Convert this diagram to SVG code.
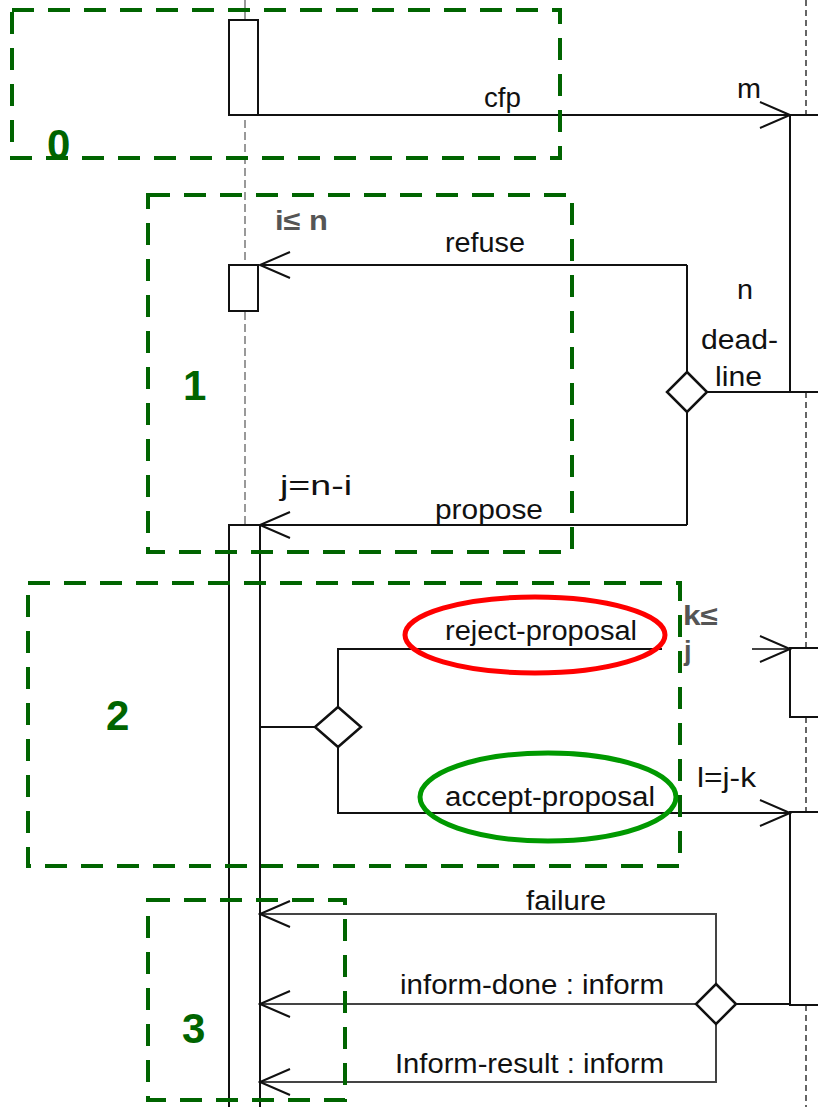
<svg xmlns="http://www.w3.org/2000/svg" width="818" height="1107" viewBox="0 0 818 1107">
<style>
.box{fill:none;stroke:#006400;stroke-width:4;stroke-dasharray:22 14}
.num{font-family:"Liberation Sans",Arial,sans-serif;font-weight:bold;font-size:42px;fill:#006400}
.lbl{font-family:"Liberation Sans",Arial,sans-serif;font-size:27px;fill:#111}
.g{fill:#555;font-weight:bold}
.ln{fill:none;stroke:#111;stroke-width:2}
.gl{fill:none;stroke:#444;stroke-width:2}
.act{fill:#fff;stroke:#111;stroke-width:2}
.life{stroke:#999;stroke-width:2;stroke-dasharray:8 4}
.lifer{stroke:#333;stroke-width:1.5;stroke-dasharray:6 4}
.dia{fill:#fff;stroke:#111;stroke-width:2.5}
</style>
<defs>
<marker id="arr" markerUnits="userSpaceOnUse" markerWidth="34" markerHeight="32" viewBox="0 0 34 32" refX="32" refY="16" orient="auto">
<path d="M2,3 L32,16 L2,29" fill="none" stroke="#111" stroke-width="2"/>
</marker>
</defs>
<rect width="818" height="1107" fill="#fff"/>
<g id="lifelines">
<line class="life" x1="245" y1="0" x2="245" y2="525"/>
<line class="lifer" x1="806" y1="0" x2="806" y2="115"/>
<line class="lifer" x1="806" y1="392" x2="806" y2="648"/>
<line class="lifer" x1="806" y1="717" x2="806" y2="812"/>
<line class="lifer" x1="806" y1="1005" x2="806" y2="1107"/>
</g>
<g id="activations">
<rect class="act" x="229" y="20" width="29" height="95"/>
<rect class="act" x="229" y="265" width="29" height="46"/>
<rect class="act" x="229" y="525" width="31" height="600"/>
<rect class="act" x="790" y="115" width="40" height="277"/>
<rect class="act" x="790" y="648" width="40" height="69"/>
<rect class="act" x="790" y="812" width="40" height="193"/>
</g>
<g id="connectors">
<line class="ln" x1="229" y1="115" x2="790" y2="115" marker-end="url(#arr)"/>
<line class="ln" x1="687" y1="265" x2="260" y2="265" marker-end="url(#arr)"/>
<polyline class="ln" points="687,265 687,372"/>
<polyline class="ln" points="687,412 687,525"/>
<line class="ln" x1="707" y1="392" x2="790" y2="392"/>
<line class="ln" x1="687" y1="525" x2="260" y2="525" marker-end="url(#arr)"/>
<line class="ln" x1="260" y1="727" x2="315" y2="727"/>
<polyline class="ln" points="338,707 338,649 662,649"/>
<line class="gl" x1="752" y1="649" x2="790" y2="649" marker-end="url(#arr)"/>
<polyline class="ln" points="338,747 338,813 790,813" marker-end="url(#arr)"/>
<polyline class="gl" points="716,984 716,914 260,914" marker-end="url(#arr)"/>
<line class="gl" x1="696" y1="1004" x2="260" y2="1004" marker-end="url(#arr)"/>
<line class="ln" x1="736" y1="1004" x2="790" y2="1004"/>
<polyline class="gl" points="716,1024 716,1082 260,1082" marker-end="url(#arr)"/>
</g>
<g id="diamonds">
<polygon class="dia" points="687,372 707,392 687,412 667,392"/>
<polygon class="dia" points="338,707 361,727 338,747 315,727"/>
<polygon class="dia" points="716,984 736,1004 716,1024 696,1004"/>
</g>
<g id="labels">
<text class="lbl" x="484" y="107" textLength="37" lengthAdjust="spacingAndGlyphs">cfp</text>
<text class="lbl" x="737" y="98" textLength="24" lengthAdjust="spacingAndGlyphs">m</text>
<text class="lbl g" x="275" y="230" textLength="53" lengthAdjust="spacingAndGlyphs">i≤ n</text>
<text class="lbl" x="445" y="252" textLength="80" lengthAdjust="spacingAndGlyphs">refuse</text>
<text class="lbl" x="737" y="299" textLength="16" lengthAdjust="spacingAndGlyphs">n</text>
<text class="lbl" x="701" y="349" textLength="77" lengthAdjust="spacingAndGlyphs">dead-</text>
<text class="lbl" x="715" y="386" textLength="47" lengthAdjust="spacingAndGlyphs">line</text>
<text class="lbl" x="280" y="495" textLength="72" lengthAdjust="spacingAndGlyphs">j=n-i</text>
<text class="lbl" x="435" y="519" textLength="108" lengthAdjust="spacingAndGlyphs">propose</text>
<text class="lbl" x="445" y="640" textLength="192" lengthAdjust="spacingAndGlyphs">reject-proposal</text>
<text class="lbl g" x="683" y="625" textLength="35" lengthAdjust="spacingAndGlyphs">k≤</text>
<text class="lbl g" x="684" y="660">j</text>
<text class="lbl" x="445" y="806" textLength="210" lengthAdjust="spacingAndGlyphs">accept-proposal</text>
<text class="lbl" x="697" y="787" textLength="59" lengthAdjust="spacingAndGlyphs">l=j-k</text>
<text class="lbl" x="526" y="910" textLength="80" lengthAdjust="spacingAndGlyphs">failure</text>
<text class="lbl" x="400" y="994" textLength="264" lengthAdjust="spacingAndGlyphs">inform-done : inform</text>
<text class="lbl" x="395" y="1073" textLength="269" lengthAdjust="spacingAndGlyphs">Inform-result : inform</text>
</g>
<g id="highlights">
<ellipse cx="535" cy="635" rx="130" ry="38" fill="none" stroke="#f00" stroke-width="5"/>
<ellipse cx="548" cy="797" rx="128" ry="44" fill="none" stroke="#090" stroke-width="5"/>
</g>
<g id="phase0">
<rect class="box" x="12" y="10" width="548" height="148"/>
<text class="num" x="47" y="159">0</text>
</g>
<g id="phase1">
<rect class="box" x="148" y="195" width="424" height="357"/>
<text class="num" x="183" y="400">1</text>
</g>
<g id="phase2">
<rect class="box" x="28" y="583" width="652" height="283"/>
<text class="num" x="106" y="730">2</text>
</g>
<g id="phase3">
<rect class="box" x="148" y="900" width="197" height="200"/>
<text class="num" x="182" y="1043">3</text>
</g>
</svg>
